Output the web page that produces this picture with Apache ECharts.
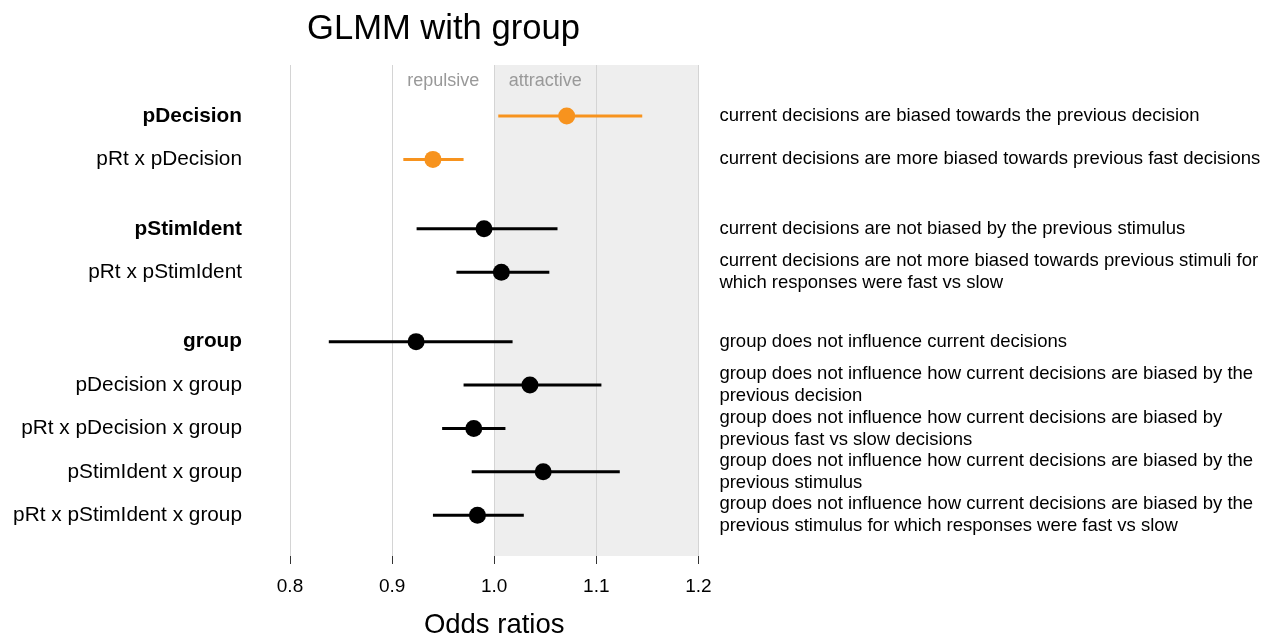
<!DOCTYPE html>
<html>
<head>
  <meta charset="utf-8">
  <title>GLMM with group</title>
  <script type="text/javascript" src="https://cdn.jsdelivr.net/npm/echarts@6/dist/echarts.min.js"></script>
</head>
<body style="margin:0; background:#fff;">
<div id="chartmain" style="width:1268px; height:639px;"></div>
<script type="text/javascript">
  // model terms, top to bottom
  var terms = ['pDecision', 'pRt x pDecision', 'pStimIdent', 'pRt x pStimIdent', 'group',
    'pDecision x group', 'pRt x pDecision x group', 'pStimIdent x group', 'pRt x pStimIdent x group'];
  // row position of each term (blocks separated by a gap)
  var rowPos = [0, 1, 2.6, 3.6, 5.2, 6.2, 7.2, 8.2, 9.2];
  // odds ratio estimates and 95% interval
  var est = [1.071, 0.940, 0.990, 1.007, 0.9235, 1.035, 0.980, 1.048, 0.9836];
  var lo  = [1.004, 0.911, 0.924, 0.963, 0.838, 0.970, 0.949, 0.978, 0.940];
  var hi  = [1.145, 0.970, 1.062, 1.054, 1.018, 1.105, 1.011, 1.123, 1.029];
  var significant = [true, true, false, false, false, false, false, false, false];
  var mainEffect = [true, false, true, false, true, false, false, false, false];
  var notes = [
    'current decisions are biased towards the previous decision',
    'current decisions are more biased towards previous fast decisions',
    'current decisions are not biased by the previous stimulus',
    'current decisions are not more biased towards previous stimuli for\nwhich responses were fast vs slow',
    'group does not influence current decisions',
    'group does not influence how current decisions are biased by the\nprevious decision',
    'group does not influence how current decisions are biased by\nprevious fast vs slow decisions',
    'group does not influence how current decisions are biased by the\nprevious stimulus',
    'group does not influence how current decisions are biased by the\nprevious stimulus for which responses were fast vs slow'
  ];
  var xTicks = [0.8, 0.9, 1.0, 1.1, 1.2];
  var regions = [[0.95, 'repulsive'], [1.05, 'attractive']];

  var FONT = '"Liberation Sans", Arial, sans-serif';
  var ORANGE = '#f7931e';

  var errData = terms.map(function (t, i) {
    return {
      value: [est[i], rowPos[i], lo[i], hi[i]],
      itemStyle: {color: significant[i] ? ORANGE : '#000'}
    };
  });

  var leftLabels = terms.map(function (t, i) {
    return {
      value: [xTicks[0], rowPos[i]],
      label: {formatter: t, fontWeight: mainEffect[i] ? 'bold' : 'normal'}
    };
  });

  var rightLabels = notes.map(function (n, i) {
    return {value: [xTicks[xTicks.length - 1], rowPos[i]], label: {formatter: n}};
  });

  var regionLabels = regions.map(function (r) {
    return {value: [r[0], -0.81], label: {formatter: r[1]}};
  });

  var option = {
    animation: false,
    textStyle: {fontFamily: FONT},
    title: {
      text: 'GLMM with group',
      left: 302,
      top: 7,
      textStyle: {fontSize: 34.6, fontWeight: 'normal', color: '#000', fontFamily: FONT}
    },
    grid: {left: 290, top: 65, width: 408.4, height: 491, outerBoundsMode: 'none', containLabel: false},
    xAxis: {
      type: 'value',
      min: 0.8,
      max: 1.2,
      interval: 0.1,
      axisLine: {show: false, onZero: false},
      axisTick: {show: true, length: 8, lineStyle: {color: '#333', width: 1}},
      splitLine: {show: true, lineStyle: {color: '#d4d4d4', width: 1}},
      splitArea: {show: true, areaStyle: {color: ['rgba(0,0,0,0)', 'rgba(0,0,0,0)', '#eeeeee', '#eeeeee']}},
      axisLabel: {
        fontSize: 19, color: '#000', margin: 21, fontFamily: FONT,
        formatter: function (v) { return v.toFixed(1); }
      },
      name: 'Odds ratios',
      nameLocation: 'middle',
      nameGap: 55,
      nameTextStyle: {fontSize: 27.5, color: '#000', fontFamily: FONT}
    },
    yAxis: {
      type: 'value',
      inverse: true,
      min: -1.175,
      max: 10.14,
      show: false
    },
    series: [
      {
        type: 'custom',
        z: 5,
        data: errData,
        renderItem: function (params, api) {
          var y = api.value(1);
          var p = api.coord([api.value(0), y]);
          var a = api.coord([api.value(2), y]);
          var b = api.coord([api.value(3), y]);
          var c = api.visual('color');
          return {
            type: 'group',
            children: [
              {type: 'line', shape: {x1: a[0], y1: a[1], x2: b[0], y2: b[1]},
                style: {stroke: c, lineWidth: 3}},
              {type: 'circle', shape: {cx: p[0], cy: p[1], r: 8.5}, style: {fill: c}}
            ]
          };
        }
      },
      {
        type: 'scatter',
        symbolSize: 0,
        silent: true,
        itemStyle: {opacity: 1},
        data: leftLabels,
        label: {show: true, position: 'left', distance: 48, fontSize: 20.8, color: '#000', fontFamily: FONT}
      },
      {
        type: 'scatter',
        symbolSize: 0,
        silent: true,
        itemStyle: {opacity: 1},
        data: rightLabels,
        label: {show: true, position: 'right', distance: 21, fontSize: 18.5, lineHeight: 22,
          align: 'left', color: '#000', fontFamily: FONT}
      },
      {
        type: 'scatter',
        symbolSize: 0,
        silent: true,
        itemStyle: {opacity: 1},
        data: regionLabels,
        label: {show: true, position: 'inside', fontSize: 18, color: '#999', fontFamily: FONT}
      }
    ]
  };

  var myChart = echarts.init(document.getElementById('chartmain'));
  myChart.setOption(option);
</script>
</body>
</html>
